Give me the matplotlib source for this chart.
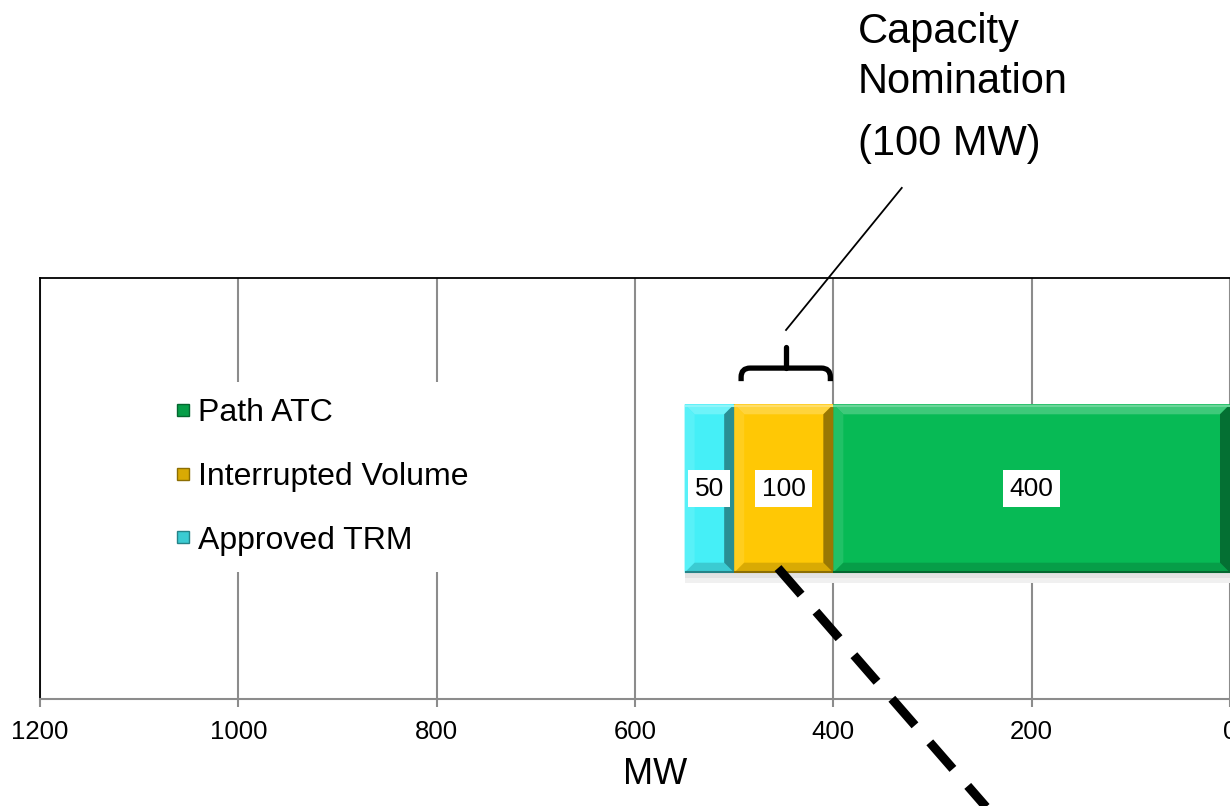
import matplotlib
matplotlib.use("Agg")
import matplotlib.pyplot as plt
import matplotlib.colors as mcolors
from matplotlib.patches import Polygon, PathPatch
from matplotlib.path import Path
from matplotlib.lines import Line2D
import numpy as np

plt.rcParams['font.family'] = ['Liberation Sans', 'DejaVu Sans']

# Stacking order starts at 0 MW and runs leftwards on the reversed axis
series = ["Path ATC", "Interrupted Volume", "Approved TRM"]
values = [400, 100, 50]
colors = ["#07BA55", "#FFC805", "#45EFF7"]
legend_order = ["Path ATC", "Interrupted Volume", "Approved TRM"]
xticks = [1200, 1000, 800, 600, 400, 200, 0]
x_limits = (1200, 0)
nomination_mw = 100
nomination_series = "Interrupted Volume"

W, H = 1230, 806
fig = plt.figure(figsize=(W / 100, H / 100), dpi=100)
ax = fig.add_axes([40 / W, 1 - 699 / H, 1190 / W, 421 / H])
ax.set_xlim(*x_limits)
ax.set_ylim(-0.5, 0.5)


def shade(c, f):
    r, g, b = mcolors.to_rgb(c)
    if f >= 0:
        return (r + (1 - r) * f, g + (1 - g) * f, b + (1 - b) * f)
    return (r * (1 + f), g * (1 + f), b * (1 + f))


bar_h = 0.4
starts = np.concatenate([[0], np.cumsum(values)[:-1]])
bars = ax.barh([0] * len(values), values, left=starts, height=bar_h,
               color=colors, zorder=3, linewidth=0)

fig.canvas.draw()
p0 = ax.transData.transform((0, 0))
p1 = ax.transData.transform((1, 1))
sx, sy = abs(p1[0] - p0[0]), abs(p1[1] - p0[1])
bev = 10
bx, by = bev / sx, bev / sy

T, B = bar_h / 2, -bar_h / 2
# soft drop shadow under the bar
total = sum(values)
ax.add_patch(Polygon([(total, B), (0, B), (0, B - 10 / sy), (total, B - 10 / sy)],
                     closed=True, facecolor="#f0f0f0", edgecolor="none", zorder=2))
ax.add_patch(Polygon([(total, B), (0, B), (0, B - 5 / sy), (total, B - 5 / sy)],
                     closed=True, facecolor="#e2e2e2", edgecolor="none", zorder=2))

# bevelled edges for each segment
for s, v, c in zip(starts, values, colors):
    L, R = s + v, s  # L is drawn on the left of the reversed axis
    top = [(L, T), (R, T), (R + bx, T - by), (L - bx, T - by)]
    bot = [(L, B), (R, B), (R + bx, B + by), (L - bx, B + by)]
    lft = [(L, T), (L - bx, T - by), (L - bx, B + by), (L, B)]
    rgt = [(R, T), (R + bx, T - by), (R + bx, B + by), (R, B)]
    for poly, f in ((top, 0.22), (lft, 0.10), (bot, -0.15), (rgt, -0.40)):
        ax.add_patch(Polygon(poly, closed=True, facecolor=shade(c, f),
                             edgecolor="none", zorder=4))
    ax.plot([L, R], [T - 1.5 / sy, T - 1.5 / sy], color=shade(c, 0.4), lw=1.5,
            zorder=5, solid_capstyle="butt")
    ax.plot([L, R], [B + 1 / sy, B + 1 / sy], color=shade(c, -0.45), lw=1.5,
            zorder=5, solid_capstyle="butt")
    ax.text(s + v / 2, 0, f"{v}", ha="center", va="center", fontsize=19,
            color="black", zorder=6,
            bbox=dict(boxstyle="square,pad=0.24", facecolor="white", edgecolor="none"))

# axes styling
ax.set_xticks(xticks)
ax.set_xticklabels([str(t) for t in xticks])
ax.set_yticks([])
ax.grid(axis="x", color="#8c8c8c", lw=1.5, zorder=0)
ax.set_axisbelow(True)
for side in ("top", "left"):
    ax.spines[side].set_color("black")
    ax.spines[side].set_linewidth(1.3)
ax.spines["bottom"].set_color("#8c8c8c")
ax.spines["bottom"].set_linewidth(1.5)
ax.spines["right"].set_visible(False)
ax.tick_params(axis="x", direction="out", length=6, width=1.5, color="#8c8c8c",
               labelsize=18.5, pad=9, labelcolor="black")

fig.text(655 / W, 1 - 775 / H, "MW", ha="center", va="center", fontsize=26)

# legend
handles = []
for name in legend_order:
    c = colors[series.index(name)]
    handles.append(Line2D([], [], marker="s", ls="none", markersize=9,
                          markerfacecolor=shade(c, -0.15), markeredgecolor=shade(c, -0.45),
                          markeredgewidth=1))
leg = ax.legend(handles, legend_order, loc="center left",
                bbox_to_anchor=(158 / W, 1 - 477 / H), bbox_transform=fig.transFigure,
                frameon=True, facecolor="white", edgecolor="none", framealpha=1,
                fontsize=23, labelspacing=1.05, handlelength=0.55, handletextpad=0.2,
                borderpad=0.5, borderaxespad=0, fancybox=False)
leg.set_zorder(2.5)

# brace over the nominated segment
i = series.index(nomination_series)
seg_lo, seg_hi = starts[i], starts[i] + values[i]
mid = (seg_lo + seg_hi) / 2
xl, xr = seg_hi - 7, seg_lo + 3
yb, ym, yt = 0.755, 0.786, 0.836
rx, ry = 9 / sx, 9 / sy
trans = ax.get_xaxis_transform()
verts = [(xl, yb), (xl, ym - ry), (xl, ym), (xl - rx, ym),
         (xr + rx, ym), (xr, ym), (xr, ym - ry), (xr, yb)]
codes = [Path.MOVETO, Path.LINETO, Path.CURVE3, Path.CURVE3,
         Path.LINETO, Path.CURVE3, Path.CURVE3, Path.LINETO]
ax.add_patch(PathPatch(Path(verts, codes), facecolor="none", edgecolor="black",
                       lw=3.8, transform=trans, clip_on=False, zorder=6,
                       capstyle="butt", joinstyle="round"))
ax.plot([mid - 2, mid - 2], [ym, yt], color="black", lw=3.8, transform=trans,
        solid_capstyle="round", clip_on=False, zorder=6)

# pointer from the note to the brace
ax.plot([mid - 2.3, mid - 119], [0.8765, 1.214], color="black", lw=1.3,
        transform=trans, clip_on=False, zorder=6)

fig.text(858 / W, 1 - 43 / H, "Capacity", fontsize=30, va="baseline", ha="left")
fig.text(858 / W, 1 - 93 / H, "Nomination", fontsize=30, va="baseline", ha="left")
fig.text(858 / W, 1 - 155 / H, f"({nomination_mw} MW)", fontsize=30, va="baseline",
         ha="left")

# dashed leader leaving the interrupted segment
ax.plot([455.8, 164.4], [0.311, -0.477], color="black", lw=6.5, transform=trans,
        clip_on=False, zorder=7, dashes=(3.9, 2.5), dash_capstyle="butt")

fig.savefig("out.png", dpi=100)
